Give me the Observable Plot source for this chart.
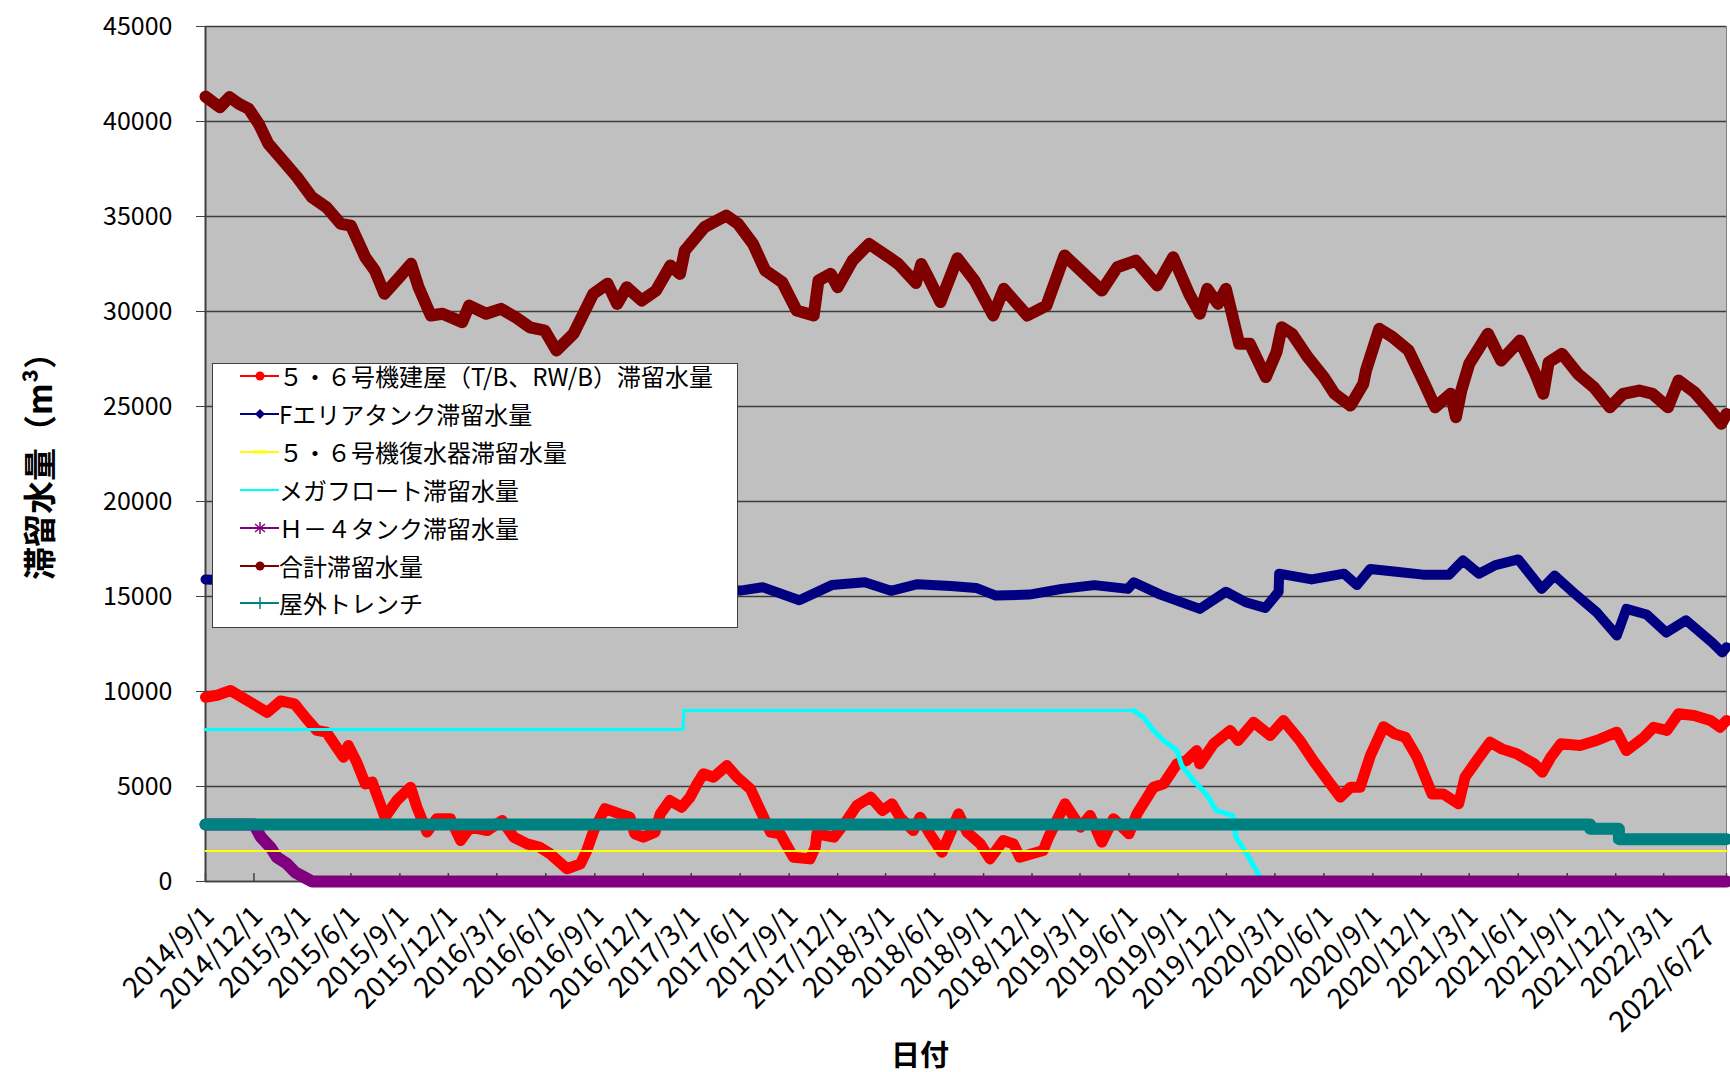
<!DOCTYPE html>
<html>
<head>
<meta charset="utf-8">
<script src="https://cdn.jsdelivr.net/npm/d3@7"></script>
<script src="https://cdn.jsdelivr.net/npm/@observablehq/plot@0.6"></script>
<style>
  html, body { margin: 0; padding: 0; background: #fff; overflow: hidden; }
  #wrap { position: relative; width: 1730px; height: 1072px; font-family: "Noto Sans CJK JP", "Noto Sans", sans-serif; color: #000; }
  #wrap > svg { position: absolute; left: 0; top: 0; }
  .legend { position: absolute; left: 212px; top: 363px; width: 526px; height: 265px; box-sizing: border-box;
            background: #fff; border: 1.5px solid #404040; }
  .legend .row { position: absolute; left: 0; height: 30px; display: flex; align-items: center; }
  .legend .row svg { display: block; flex: none; }
  .legend .row span { font-size: 24px; line-height: 30px; white-space: nowrap; }
  .ytitle { position: absolute; left: 38px; top: 458px; transform: translate(-50%, -50%) rotate(-90deg);
            font-size: 33px; font-weight: bold; white-space: nowrap; }
  .xtitle { position: absolute; left: 920px; top: 1053px; transform: translate(-50%, -50%);
            font-size: 29px; font-weight: bold; white-space: nowrap; }
</style>
</head>
<body>
<div id="wrap"></div>
<script>
// ---------- data ----------
const yTicks = [0, 5000, 10000, 15000, 20000, 25000, 30000, 35000, 40000, 45000];
const xTickLabels = ["2014/9/1","2014/12/1","2015/3/1","2015/6/1","2015/9/1","2015/12/1","2016/3/1","2016/6/1",
  "2016/9/1","2016/12/1","2017/3/1","2017/6/1","2017/9/1","2017/12/1","2018/3/1","2018/6/1","2018/9/1","2018/12/1",
  "2019/3/1","2019/6/1","2019/9/1","2019/12/1","2020/3/1","2020/6/1","2020/9/1","2020/12/1","2021/3/1","2021/6/1",
  "2021/9/1","2021/12/1","2022/3/1","2022/6/27"];

const seriesNames = [
  "５・６号機建屋（T/B、RW/B）滞留水量",
  "Fエリアタンク滞留水量",
  "５・６号機復水器滞留水量",
  "メガフロート滞留水量",
  "Ｈ－４タンク滞留水量",
  "合計滞留水量",
  "屋外トレンチ"
];
const seriesColors = ["#ff0000", "#000080", "#ffff00", "#00ffff", "#800080", "#800000", "#008080"];

// 5・6号機建屋
const buildingSeries = [
  ["2014-09-01",9700],["2014-09-23",9800],["2014-10-18",10050],["2014-11-17",9550],["2014-12-26",8900],
  ["2015-01-20",9500],["2015-02-15",9350],["2015-03-10",8560],["2015-03-29",7950],["2015-04-16",7860],
  ["2015-05-05",7070],["2015-05-18",6540],["2015-05-27",7160],["2015-06-12",6280],["2015-06-28",5140],
  ["2015-07-11",5230],["2015-07-26",4090],["2015-08-04",3380],["2015-08-26",4260],["2015-09-21",4960],
  ["2015-10-03",3910],["2015-10-22",2600],["2015-11-09",3300],["2015-12-05",3300],["2015-12-24",2160],
  ["2016-01-11",2860],["2016-02-12",2680],["2016-03-11",3210],["2016-04-02",2330],["2016-04-27",1980],
  ["2016-05-21",1800],["2016-06-09",1460],["2016-07-11",670],["2016-08-05",930],["2016-08-17",1630],
  ["2016-08-30",2680],["2016-09-20",3830],["2016-10-18",3560],["2016-11-06",3380],["2016-11-15",2510],
  ["2016-12-01",2330],["2016-12-23",2600],["2017-01-02",3560],["2017-01-20",4260],["2017-02-11",3910],
  ["2017-02-27",4440],["2017-03-12",5140],["2017-03-24",5670],["2017-04-12",5490],["2017-05-07",6100],
  ["2017-05-26",5490],["2017-06-20",4880],["2017-07-12",3560],["2017-07-28",2600],["2017-08-15",2510],
  ["2017-09-09",1280],["2017-10-10",1190],["2017-10-20",1800],["2017-10-23",2510],["2017-11-24",2330],
  ["2017-12-18",3210],["2018-01-06",4000],["2018-02-01",4440],["2018-02-23",3740],["2018-03-13",4090],
  ["2018-03-28",3380],["2018-04-22",2680],["2018-05-05",3380],["2018-05-23",2510],["2018-06-15",1540],
  ["2018-07-16",3560],["2018-08-01",2600],["2018-08-26",1980],["2018-09-13",1190],["2018-10-08",2160],
  ["2018-10-27",1980],["2018-11-08",1280],["2018-12-22",1630],["2019-01-01",2330],["2019-02-01",4090],
  ["2019-03-02",2860],["2019-03-20",3470],["2019-04-11",2070],["2019-05-03",3300],["2019-06-01",2510],
  ["2019-06-16",3560],["2019-07-17",4960],["2019-08-05",5140],["2019-08-30",6190],["2019-09-17",6370],
  ["2019-10-06",6890],["2019-10-12",6190],["2019-11-07",7250],["2019-12-08",7950],["2019-12-23",7420],
  ["2020-01-21",8380],["2020-02-21",7680],["2020-03-17",8470],["2020-04-17",7420],["2020-05-12",6370],
  ["2020-06-13",5140],["2020-07-02",4440],["2020-07-21",4960],["2020-08-08",4960],["2020-08-27",6600],
  ["2020-09-21",8150],["2020-10-12",7770],["2020-11-01",7590],["2020-11-23",6540],["2020-12-21",4610],
  ["2021-01-11",4610],["2021-02-09",4090],["2021-02-21",5490],["2021-03-15",6370],["2021-04-09",7330],
  ["2021-05-01",6980],["2021-05-29",6720],["2021-07-01",6190],["2021-07-16",5750],["2021-08-01",6540],
  ["2021-08-20",7250],["2021-09-25",7160],["2021-10-26",7420],["2021-12-03",7860],["2021-12-21",6890],
  ["2022-01-23",7590],["2022-02-10",8120],["2022-03-07",7950],["2022-03-29",8830],["2022-04-27",8740],
  ["2022-05-28",8470],["2022-06-15",8120],["2022-06-27",8470]
];

// Fエリアタンク
const fAreaSeries = [
  ["2014-09-01",15900],["2015-03-01",15700],["2015-09-01",15600],["2016-03-01",15500],["2016-09-01",15400],
  ["2017-03-01",15400],["2017-06-01",15310],["2017-07-13",15490],["2017-09-20",14800],["2017-11-20",15600],
  ["2018-01-21",15750],["2018-03-11",15300],["2018-04-30",15650],["2018-07-01",15550],["2018-08-18",15450],
  ["2018-09-24",15050],["2018-11-26",15100],["2019-01-26",15400],["2019-03-28",15600],["2019-05-30",15400],
  ["2019-06-10",15750],["2019-07-30",15100],["2019-10-12",14350],["2019-11-30",15250],["2020-01-06",14700],
  ["2020-02-12",14400],["2020-03-08",15250],["2020-03-09",16200],["2020-05-09",15900],["2020-07-09",16200],
  ["2020-08-02",15600],["2020-08-27",16450],["2020-10-15",16300],["2020-12-04",16150],["2021-01-22",16150],
  ["2021-02-17",16900],["2021-03-19",16200],["2021-04-19",16650],["2021-06-01",16950],["2021-07-15",15400],
  ["2021-08-08",16100],["2021-09-13",15200],["2021-10-27",14150],["2021-12-03",12950],["2021-12-21",14350],
  ["2022-01-28",14050],["2022-03-06",13100],["2022-04-12",13750],["2022-06-01",12550],["2022-06-19",12050],
  ["2022-06-27",12330]
];

// 5・6号機復水器
const condenserSeries = [["2014-09-01",1600],["2022-06-27",1600]];

// メガフロート
const megafloatSeries = [
  ["2014-09-01",8000],["2017-02-14",8000],["2017-02-15",9000],["2019-06-09",9000],["2019-06-28",8650],
  ["2019-07-17",7950],["2019-08-05",7420],["2019-08-30",6890],["2019-09-08",6100],["2019-09-30",5320],
  ["2019-10-24",4610],["2019-11-12",3740],["2019-12-13",3470],["2019-12-19",2330],["2020-01-08",1460],
  ["2020-02-02",230],["2020-02-06",0]
];

// H－4タンク
const h4Series = [
  ["2014-09-01",3000],["2014-12-01",3000],["2014-12-14",2330],["2015-01-01",1800],["2015-01-13",1280],
  ["2015-02-01",930],["2015-02-16",490],["2015-03-05",230],["2015-03-20",0],["2022-06-27",0]
];

// 合計
const totalSeries = [
  ["2014-09-01",41310],["2014-09-28",40750],["2014-10-16",41280],["2014-11-03",40930],["2014-11-21",40670],
  ["2014-12-10",39880],["2014-12-28",38830],["2015-01-24",37950],["2015-02-20",37070],["2015-03-20",36010],
  ["2015-04-16",35490],["2015-05-13",34610],["2015-06-01",34520],["2015-06-28",32860],["2015-07-16",32160],
  ["2015-08-03",30930],["2015-08-31",31800],["2015-09-22",32510],["2015-10-06",31280],["2015-10-29",29790],
  ["2015-11-20",29880],["2015-12-27",29440],["2016-01-09",30310],["2016-02-10",29880],["2016-03-09",30140],
  ["2016-04-05",29700],["2016-05-02",29170],["2016-05-30",29000],["2016-06-21",27950],["2016-07-23",28830],
  ["2016-08-29",30930],["2016-09-25",31460],["2016-10-13",30400],["2016-10-31",31280],["2016-11-28",30580],
  ["2016-12-25",31100],["2017-01-21",32420],["2017-02-08",31980],["2017-02-17",33210],["2017-03-26",34440],
  ["2017-05-06",35050],["2017-05-28",34610],["2017-06-25",33560],["2017-07-18",32160],["2017-08-19",31540],
  ["2017-09-15",30050],["2017-10-17",29790],["2017-10-26",31630],["2017-11-18",31980],["2017-12-01",31280],
  ["2017-12-29",32680],["2018-01-29",33560],["2018-03-07",32860],["2018-03-25",32500],["2018-04-27",31500],
  ["2018-05-07",32500],["2018-05-20",31800],["2018-06-12",30500],["2018-07-14",32800],["2018-08-15",31630],
  ["2018-09-19",29790],["2018-10-09",31190],["2018-11-22",29790],["2018-12-28",30310],["2019-01-31",32950],
  ["2019-03-02",32160],["2019-04-11",31100],["2019-05-10",32330],["2019-06-14",32680],["2019-07-24",31370],
  ["2019-08-23",32860],["2019-09-22",30930],["2019-10-12",29880],["2019-10-26",31190],["2019-11-15",30400],
  ["2019-11-30",31190],["2019-12-25",28300],["2020-01-14",28300],["2020-02-13",26550],["2020-03-04",27860],
  ["2020-03-14",29170],["2020-04-02",28830],["2020-05-02",27590],["2020-06-01",26540],["2020-06-21",25670],
  ["2020-07-21",25050],["2020-08-14",26190],["2020-08-19",26890],["2020-09-13",29090],["2020-10-08",28650],
  ["2020-11-07",27950],["2020-12-07",26190],["2020-12-27",24960],["2021-01-25",25670],["2021-02-04",24440],
  ["2021-02-14",25840],["2021-03-01",27250],["2021-04-05",28830],["2021-04-30",27420],["2021-06-04",28470],
  ["2021-07-03",26720],["2021-07-18",25670],["2021-07-28",27330],["2021-08-22",27770],["2021-09-21",26720],
  ["2021-10-21",26010],["2021-11-20",24960],["2021-12-15",25670],["2022-01-14",25840],["2022-02-08",25670],
  ["2022-03-09",24960],["2022-03-29",26370],["2022-04-28",25750],["2022-05-28",24790],["2022-06-17",24090],
  ["2022-06-27",24610]
];

// 屋外トレンチ (step values)
const trenchSeries = [["2014-09-01",3000],["2021-10-14",2770],["2021-12-07",2230],["2022-06-27",2230]];

// ---------- chart ----------
const parse = s => new Date(s.replace(/\//g, "-").replace(/-(\d)(?=-|$)/g, "-0$1") + "T00:00:00Z");
const toRows = arr => arr.map(([d, v]) => ({date: parse(d), value: v}));

const xTicks = xTickLabels.map(s => ({date: parse(s), label: s}));
const xDomain = [xTicks[0].date, xTicks[xTicks.length - 1].date];

const W = 1730, H = 1072;
const mTop = 26, mBottom = 191, mLeft = 205, mRight = 4;
const plotH = H - mTop - mBottom;
const yMax = 45000;
const tickLen = 8 * yMax / plotH;  // 8px inner ticks in data units

const lineOpts = (color, w) => ({x: "date", y: "value", stroke: color, strokeWidth: w,
  strokeLinejoin: "round", strokeLinecap: "round"});

const mega = toRows(megafloatSeries);
const megaFlat = mega.filter(d => d.date <= parse("2019-06-09"));
const megaDrop = mega.filter(d => d.date >= parse("2019-06-09"));

const chart = Plot.plot({
  width: W, height: H,
  marginTop: mTop, marginBottom: mBottom, marginLeft: mLeft, marginRight: mRight,
  style: {background: "transparent", overflow: "visible", fontFamily: '"Noto Sans CJK JP", "Noto Sans", sans-serif', color: "#000"},
  x: {type: "utc", domain: xDomain, axis: null},
  y: {domain: [0, yMax], axis: null},
  marks: [
    Plot.frame({fill: "#c0c0c0", stroke: "#808080"}),
    Plot.gridY(yTicks, {stroke: "#3c3c3c", strokeOpacity: 1, strokeWidth: 1.5}),
    Plot.ruleX([xDomain[0]], {stroke: "#404040", strokeWidth: 2}),
    Plot.axisY(yTicks, {tickSize: 9, tickPadding: 24, fontSize: 25, tickFormat: d => String(d), label: null, stroke: "#404040"}),
    Plot.ruleX(xTicks, {x: "date", y1: 0, y2: tickLen, stroke: "#404040", strokeWidth: 1.5}),
    Plot.ruleY([0], {stroke: "#404040", strokeWidth: 1.5}),
    // series
    Plot.line(toRows(buildingSeries), lineOpts(seriesColors[0], 11)),
    Plot.line(toRows(fAreaSeries), lineOpts(seriesColors[1], 10)),
    Plot.line(toRows(totalSeries), lineOpts(seriesColors[5], 12)),
    Plot.line(megaFlat, {x: "date", y: "value", stroke: seriesColors[3], strokeWidth: 3}),
    Plot.line(megaDrop, lineOpts(seriesColors[3], 5)),
    Plot.line(toRows(h4Series), lineOpts(seriesColors[4], 12)),
    Plot.line(toRows(condenserSeries), {x: "date", y: "value", stroke: seriesColors[2], strokeWidth: 2}),
    Plot.line(toRows(trenchSeries), {x: "date", y: "value", stroke: seriesColors[6], strokeWidth: 12, curve: "step-after"}),
    // x tick labels
    Plot.text(xTicks.slice(0, -1), {x: "date", frameAnchor: "bottom", text: "label", rotate: -45,
      textAnchor: "end", lineAnchor: "middle", dx: 4, dy: 30, fontSize: 28, fill: "#000"}),
    Plot.text(xTicks.slice(-1), {x: "date", frameAnchor: "bottom", text: "label", rotate: -45,
      textAnchor: "end", lineAnchor: "middle", dx: -16, dy: 50, fontSize: 29, fill: "#000"})
  ]
});

const wrap = document.getElementById("wrap");
wrap.appendChild(chart);

// axis titles
const yt = document.createElement("div");
yt.className = "ytitle"; yt.textContent = "滞留水量（m³）";
wrap.appendChild(yt);
const xt = document.createElement("div");
xt.className = "xtitle"; xt.textContent = "日付";
wrap.appendChild(xt);

// legend
const markerSvg = (i, c) => {
  const cx = 47, cy = 15;
  let m = "";
  if (i === 0 || i === 5) m = `<circle cx="${cx}" cy="${cy}" r="4.5" fill="${c}"/>`;
  else if (i === 1) m = `<path d="M${cx},${cy-5}L${cx+5},${cy}L${cx},${cy+5}L${cx-5},${cy}Z" fill="${c}"/>`;
  else if (i === 2) m = `<line x1="${cx-6}" x2="${cx+6}" y1="${cy}" y2="${cy}" stroke="${c}" stroke-width="3"/>`;
  else if (i === 4) m = `<g stroke="${c}" stroke-width="1.5"><line x1="${cx}" x2="${cx}" y1="${cy-6}" y2="${cy+6}"/><line x1="${cx-5}" x2="${cx+5}" y1="${cy-4}" y2="${cy+4}"/><line x1="${cx-5}" x2="${cx+5}" y1="${cy+4}" y2="${cy-4}"/></g>`;
  else if (i === 6) m = `<line x1="${cx}" x2="${cx}" y1="${cy-6}" y2="${cy+6}" stroke="${c}" stroke-width="1.5"/>`;
  return `<svg width="66" height="30"><line x1="27" x2="66" y1="15" y2="15" stroke="${c}" stroke-width="2"/>${m}</svg>`;
};
const legend = document.createElement("div");
legend.className = "legend";
seriesNames.forEach((name, i) => {
  const row = document.createElement("div");
  row.className = "row";
  row.style.top = (375 + i * 37.9 - 363 - 15) + "px";
  row.innerHTML = markerSvg(i, seriesColors[i]) + `<span>${name}</span>`;
  legend.appendChild(row);
});
wrap.appendChild(legend);
</script>
</body>
</html>
